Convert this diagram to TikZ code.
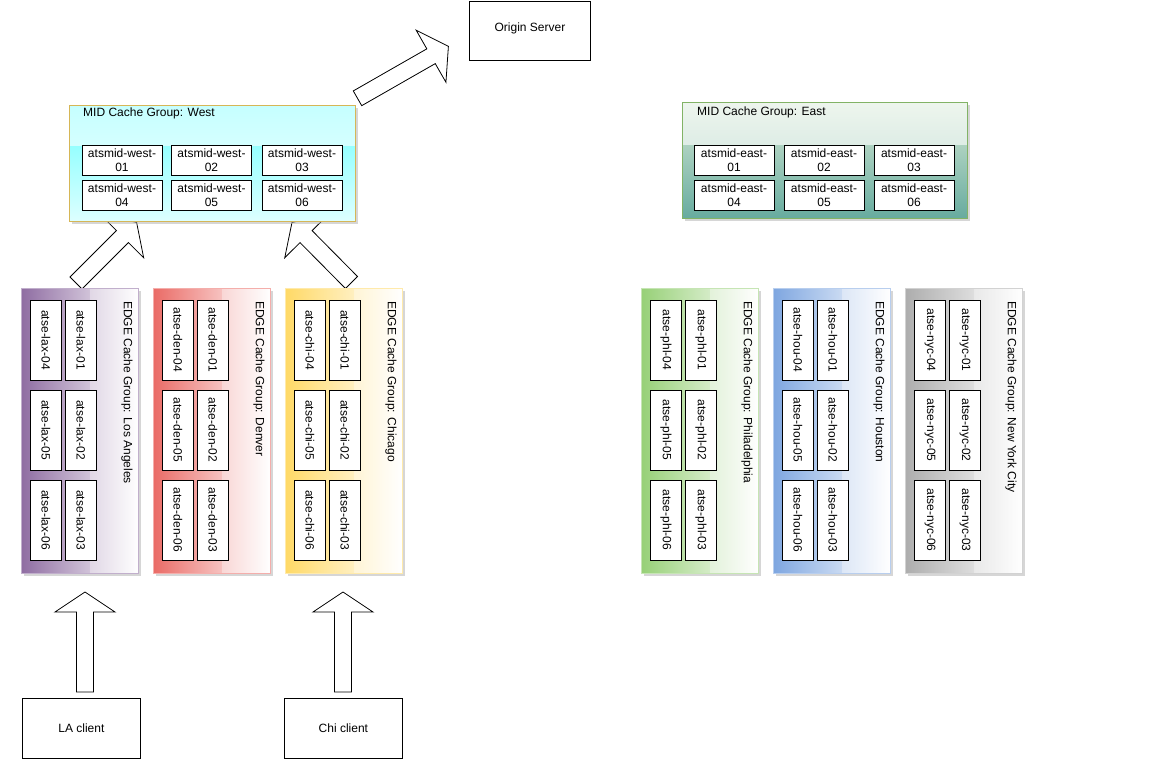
\documentclass[tikz,border=0pt]{standalone}
\usepackage{fontspec}
\setmainfont{Liberation Sans}
\usetikzlibrary{calc,shadows}
\newcommand\fs{\fontsize{12}{14}\selectfont}
\definecolor{lacol}{HTML}{8F6DA2}
\definecolor{dencol}{HTML}{EA6B66}
\definecolor{chicol}{HTML}{FFD966}
\definecolor{phlcol}{HTML}{97D077}
\definecolor{houcol}{HTML}{7EA6E0}
\definecolor{nyccol}{HTML}{ADADAD}
\definecolor{westtop}{HTML}{70FFFF}
\definecolor{westbot}{HTML}{DDFFFF}
\definecolor{westline}{HTML}{D6B656}
\definecolor{easttop}{HTML}{D5E8D4}
\definecolor{eastbot}{HTML}{67AB9F}
\definecolor{eastline}{HTML}{82B366}
\tikzset{
  blockarrow/.style={draw=black, fill=white, line width=0.8pt, line join=miter},
  inbox/.style={draw=black, fill=white, line width=0.8pt, minimum width=80pt,
    minimum height=30pt, inner sep=0pt, align=center, font=\fs},
  ebox/.style={draw=black, fill=white, line width=0.8pt, minimum width=80pt,
    minimum height=31pt, inner sep=0pt, rotate=-90, font=\fs},
  plainbox/.style={draw=black, fill=white, line width=0.8pt, inner sep=0pt, font=\fs},
  grpshadow/.style={drop shadow={shadow xshift=2.5pt, shadow yshift=-2.5pt, fill=black!35, opacity=0.45}},
  lbl/.style={font=\fs, inner sep=0pt},
}
\newcommand{\blockarrow}[2]{%
  \coordinate (ba-base) at ($(#2)!20pt!(#1)$);
  \draw[blockarrow] ($(#1)!8.5pt!90:(#2)$) -- ($(ba-base)!8.5pt!90:(#2)$)
    -- ($(ba-base)!30pt!90:(#2)$) -- (#2) -- ($(ba-base)!30pt!-90:(#2)$)
    -- ($(ba-base)!8.5pt!-90:(#2)$) -- ($(#1)!8.5pt!-90:(#2)$) -- cycle;
}
\begin{document}
\begin{tikzpicture}[x=1pt,y=-1pt]
\useasboundingbox (0,0) rectangle (1173,763);
\fill[white] (0,0) rectangle (1173,763);

% clients and origin
\node[plainbox, minimum width=118pt, minimum height=60pt, anchor=north west] (laclient) at (22,698) {LA client};
\node[plainbox, minimum width=118pt, minimum height=60pt, anchor=north west] (chiclient) at (284,698) {Chi client};
\node[plainbox, minimum width=121pt, minimum height=59pt, anchor=north west] (origin) at (469,0.8) {};
\node[lbl] (origintxt) at (530,28) {Origin Server};

% arrow end points
\coordinate (a1t) at (85,692);   \coordinate (a1h) at (85,592);
\coordinate (a2t) at (343,692);  \coordinate (a2h) at (343,592);
\coordinate (a3t) at (76,283);   \coordinate (a3h) at (136.6,222.4);
\coordinate (a4t) at (351.5,282.5); \coordinate (a4h) at (292,222.4);
\coordinate (a5t) at (357.5,98.3); \coordinate (a5h) at (448.4,46.3);
\blockarrow{a1t}{a1h}
\blockarrow{a2t}{a2h}
\blockarrow{a3t}{a3h}
\blockarrow{a4t}{a4h}
\blockarrow{a5t}{a5h}

% MID West
\node[grpshadow, top color=westtop, bottom color=westbot, minimum width=286pt,
  minimum height=116pt, anchor=north west, inner sep=0pt] (midwest) at (69,105) {};
\fill[white, opacity=0.6] (midwest.north west) rectangle ($(midwest.north east)!0.35!(midwest.south east)$);
\draw[westline, line width=0.8pt] (midwest.north west) rectangle (midwest.south east);
\node[lbl, anchor=west] (midwestlbl) at (83,113) {MID Cache Group: West};

% MID East
\node[grpshadow, top color=easttop, bottom color=eastbot, minimum width=285pt,
  minimum height=116pt, anchor=north west, inner sep=0pt] (mideast) at (682,102) {};
\fill[white, opacity=0.6] (mideast.north west) rectangle ($(mideast.north east)!0.37!(mideast.south east)$);
\draw[eastline, line width=0.8pt] (mideast.north west) rectangle (mideast.south east);
\node[lbl, anchor=west] (mideastlbl) at (697,112) {MID Cache Group: East};

% MID inner boxes
\foreach \i/\xx/\yy in {1/122/160, 2/211.5/160, 3/302/160, 4/122/195, 5/211.5/195, 6/302/195}{
  \node[inbox] (mw-\i) at (\xx,\yy) {atsmid-west-\\0\i};
}
\foreach \i/\xx/\yy in {1/734/160.5, 2/824/160.5, 3/914/160.5, 4/734/195, 5/824/195, 6/914/195}{
  \node[inbox] (me-\i) at (\xx,\yy) {atsmid-east-\\0\i};
}

% EDGE groups
\foreach \x/\code/\col/\city in {21/lax/lacol/Los Angeles, 153/den/dencol/Denver,
    285/chi/chicol/Chicago, 641/phl/phlcol/Philadelphia, 773/hou/houcol/Houston,
    905/nyc/nyccol/New York City}{
  \node[grpshadow, left color=\col, right color=white, minimum width=117pt,
    minimum height=285pt, anchor=north west, inner sep=0pt] (g-\code) at (\x,288) {};
  \fill[white, opacity=0.35] ($(g-\code.north west)!0.59!(g-\code.north east)$) rectangle (g-\code.south east);
  \draw[\col!55, line width=0.6pt] (g-\code.north west) rectangle (g-\code.south east);
  \node[lbl, rotate=-90, anchor=west] (lbl-\code) at ({\x+106},301) {EDGE Cache Group: \city};
  \foreach \r/\yy in {0/340,1/430,2/520}{
    \pgfmathtruncatemacro\na{\r+4}
    \pgfmathtruncatemacro\nb{\r+1}
    \node[ebox] (e-\code-\na) at ({\x+25},\yy) {atse-\code-0\na};
    \node[ebox] (e-\code-\nb) at ({\x+60},\yy) {atse-\code-0\nb};
  }
}
\end{tikzpicture}
\end{document}
